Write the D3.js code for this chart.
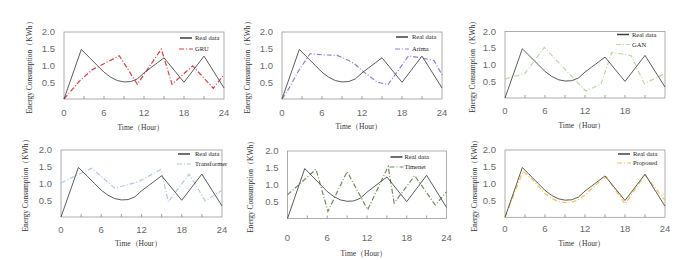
<!DOCTYPE html>
<html>
<head>
<meta charset="utf-8">
<script src="https://cdn.jsdelivr.net/npm/d3@7"></script>
<style>
  body { margin: 0; background: #fff; }
  svg { display: block; }
</style>
</head>
<body>
<script>
// data: [hour, kWh]
const realData = [[0,0],[2.6,1.48],[4,1.2],[5,1.0],[6,0.8],[7,0.65],[8,0.55],[9,0.51],[10,0.52],[11,0.6],[12,0.78],[13,0.93],[14,1.08],[15,1.23],[18,0.5],[21,1.28],[24,0.33]];
const gru = [[0,0],[2.4,0.55],[4.2,0.87],[8.3,1.29],[11,0.44],[14.6,1.49],[16.2,0.44],[19.3,0.99],[22.4,0.32],[24,0.73]];
const arima = [[0,0],[1,0.3],[2.5,0.85],[4.2,1.35],[6,1.32],[8.3,1.3],[10,1.15],[11,1.03],[12,0.85],[13,0.7],[14.3,0.5],[15.9,0.43],[19,1.29],[21,1.22],[22.8,1.15],[24,0.72]];
const gan = [[0,0.57],[3,0.74],[5.9,1.52],[12.1,0.21],[14.4,0.42],[16,1.37],[18.9,1.28],[20.9,0.43],[24,0.74]];
const transformer = [[0,1.02],[4.6,1.46],[8,0.86],[11.5,1.05],[14.9,1.42],[16,0.45],[19.1,1.28],[21.5,0.48],[24,0.8]];
const timenet = [[0,0.7],[4.3,1.46],[6.1,0.21],[9,1.39],[12.1,0.26],[15.2,1.54],[16.1,0.46],[19.2,1.27],[22.3,0.4],[24,0.79]];
const proposed = [[0,0],[2.7,1.37],[4,1.15],[5,0.92],[6,0.71],[7,0.56],[8,0.47],[9,0.44],[10,0.45],[11,0.52],[12,0.66],[13,0.85],[14,1.03],[15.2,1.2],[18,0.4],[21,1.26],[24,0.5]];

const modelNames = ["GRU", "Arima", "GAN", "Transformer", "Timenet", "Proposed"];
const modelSeries = [gru, arima, gan, transformer, timenet, proposed];
const modelColors = ["#e8383d", "#9a7bd4", "#bcd8a4", "#b2c9e4", "#6f8c5c", "#f3c24a"];
const realLabel = "Real data";
const yTicks = [0.5, 1.0, 1.5, 2.0];
const xLabelTicks = [0, 6, 12, 18, 24];
const xMinorTicks = [3, 6, 9, 12, 15, 18, 21];

// panel layout (pixels)
const panels = [
  {x0: 64, x1: 224, yt: 32, yb: 99, ylx: 29, xly: 127, tly: 113, lgx: 44, lgy: [6, 17], tx: 29, last: true},
  {x0: 282, x1: 442, yt: 32, yb: 99, ylx: 247, xly: 126, tly: 113, lgx: 46, lgy: [5, 17], tx: 30, last: true},
  {x0: 505, x1: 665, yt: 31.5, yb: 98, ylx: 472, xly: 125, tly: 111, lgx: 48, lgy: [3, 13], tx: 33, last: false},
  {x0: 61, x1: 222, yt: 150, yb: 217, ylx: 25, xly: 243, tly: 230, lgx: 44, lgy: [4, 14], tx: 27, last: true},
  {x0: 287.5, x1: 446.5, yt: 151, yb: 218.5, ylx: 250, xly: 253, tly: 238, lgx: 56, lgy: [6, 16], tx: 42, last: true},
  {x0: 505, x1: 665, yt: 150, yb: 217.3, ylx: 474, xly: 243, tly: 229, lgx: 47, lgy: [4, 13], tx: 32, last: true}
];

const svg = d3.select("body").append("svg").attr("width", 699).attr("height", 260);

panels.forEach((p, i) => {
  const x = d3.scaleLinear().domain([0, 24]).range([p.x0, p.x1]);
  const y = d3.scaleLinear().domain([0, 2]).range([p.yb, p.yt]);
  const g = svg.append("g");

  // frame
  g.append("rect").attr("x", p.x0).attr("y", p.yt).attr("width", p.x1 - p.x0).attr("height", p.yb - p.yt)
    .attr("fill", "none").attr("stroke", "#9a9a9a").attr("stroke-width", 0.8);

  // inner x ticks
  g.selectAll(".mt").data(xMinorTicks).enter().append("line")
    .attr("x1", d => x(d)).attr("x2", d => x(d)).attr("y1", p.yb).attr("y2", p.yb - 3)
    .attr("stroke", "#8a8a8a").attr("stroke-width", 0.8);

  // tick labels
  g.selectAll(".xl").data(xLabelTicks.filter(d => p.last || d < 24)).enter().append("text")
    .attr("x", d => x(d)).attr("y", p.tly).attr("dy", "0.35em").attr("text-anchor", "middle")
    .attr("font-family", "Liberation Sans, Arial, sans-serif").attr("font-size", 9.5).attr("fill", "#6a6a6a")
    .text(d => d);
  g.selectAll(".yl").data(yTicks).enter().append("text")
    .attr("x", p.x0 - 9).attr("y", d => y(d)).attr("dy", "0.35em").attr("text-anchor", "end")
    .attr("font-family", "Liberation Sans, Arial, sans-serif").attr("font-size", 9.5).attr("fill", "#6a6a6a")
    .text(d => d3.format(".1f")(d));

  // axis titles
  g.append("text").attr("x", (p.x0 + p.x1) / 2 - 3).attr("y", p.xly).attr("dy", "0.35em").attr("text-anchor", "middle")
    .attr("font-family", "Liberation Serif, serif").attr("font-size", 7.5).attr("fill", "#333")
    .text("Time（Hour）");
  g.append("text").attr("transform", `translate(${p.ylx},${(p.yt + p.yb) / 2}) rotate(-90)`)
    .attr("dy", "0.35em").attr("text-anchor", "middle")
    .attr("font-family", "Liberation Serif, serif").attr("font-size", 7.5).attr("fill", "#333")
    .text("Energy Consumption（KWh）");

  const line = d3.line().x(d => x(d[0])).y(d => y(d[1]));

  g.append("path").datum(modelSeries[i]).attr("d", line).attr("fill", "none")
    .attr("stroke", modelColors[i]).attr("stroke-width", 1.2).attr("stroke-dasharray", "5,2,1,2");
  g.append("path").datum(realData).attr("d", line).attr("fill", "none")
    .attr("stroke", "#4a4a4a").attr("stroke-width", 0.9);

  // legend
  const lx = p.x1 - p.lgx;
  g.append("line").attr("x1", lx).attr("x2", lx + 12).attr("y1", p.yt + p.lgy[0]).attr("y2", p.yt + p.lgy[0])
    .attr("stroke", "#3c3c3c").attr("stroke-width", 1.5);
  g.append("line").attr("x1", lx - 1).attr("x2", lx + 13).attr("y1", p.yt + p.lgy[1]).attr("y2", p.yt + p.lgy[1])
    .attr("stroke", modelColors[i]).attr("stroke-width", 1.2).attr("stroke-dasharray", "5,2,1,2");
  [realLabel, modelNames[i]].forEach((t, k) => {
    g.append("text").attr("x", p.x1 - p.tx).attr("y", p.yt + p.lgy[k]).attr("dy", "0.35em")
      .attr("font-family", "Liberation Serif, serif").attr("font-size", 6.5).attr("fill", "#222")
      .text(t);
  });
});
</script>
</body>
</html>
